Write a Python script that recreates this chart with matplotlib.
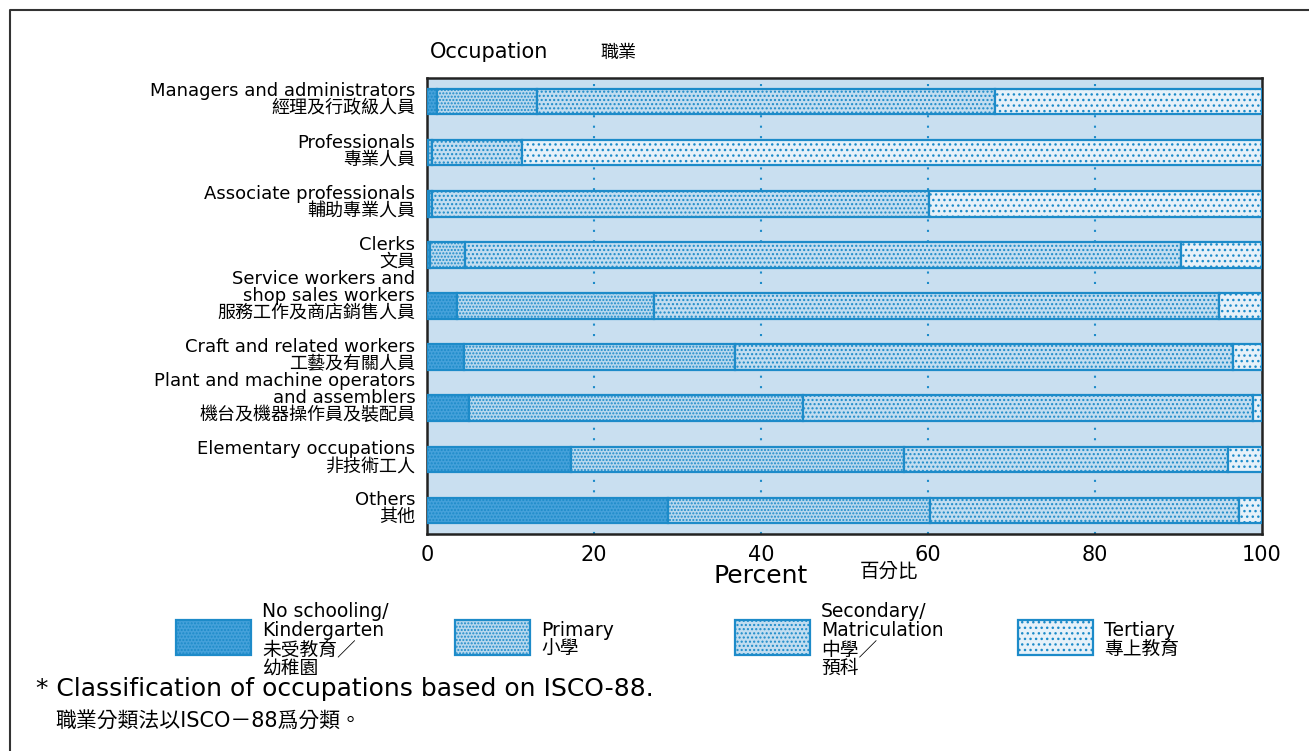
import numpy as np
import matplotlib
matplotlib.use('Agg')
import matplotlib.pyplot as plt
from matplotlib.patches import Rectangle
from matplotlib.lines import Line2D

plt.rcParams['font.family'] = ['DejaVu Sans', 'Noto Sans CJK TC']
plt.rcParams['hatch.linewidth'] = 1.0

occupations_en = ["Managers and administrators", "Professionals", "Associate professionals",
                  "Clerks", "Service workers and\nshop sales workers", "Craft and related workers",
                  "Plant and machine operators\nand assemblers", "Elementary occupations", "Others"]
occupations_zh = ["經理及行政級人員", "專業人員", "輔助專業人員", "文員", "服務工作及商店銷售人員",
                  "工藝及有關人員", "機台及機器操作員及裝配員", "非技術工人", "其他"]

# percent of employed persons by educational attainment
no_schooling = [1.2, 0.1, 0.2, 0.3, 3.6, 4.4, 5.0, 17.3, 28.9]
primary = [12.0, 0.5, 0.4, 4.3, 23.6, 32.5, 40.0, 39.8, 31.3]
secondary = [54.8, 10.8, 59.5, 85.7, 67.6, 59.6, 53.9, 38.8, 37.0]
tertiary = [32.0, 88.6, 39.9, 9.7, 5.2, 3.5, 1.1, 4.1, 2.8]

levels = ["No schooling/\nKindergarten\n未受教育／\n幼稚園", "Primary\n小學",
          "Secondary/\nMatriculation\n中學／\n預科", "Tertiary\n專上教育"]
xticks = [0, 20, 40, 60, 80, 100]

faces = ['#45a1da', '#b8d8ee', '#c2ddf0', '#e6f1f9']
hatches = ['.....', '.....', '....', '...']
edge = '#1d8bc9'
bg = '#c9dff0'

W, H = 1309, 751
fig = plt.figure(figsize=(W / 100, H / 100), dpi=100)

def fx(px):
    return px / W

def fy(py):
    return 1 - py / H

ax = fig.add_axes([fx(427), fy(534), fx(1262) - fx(427), fy(78) - fy(534)])
ax.set_facecolor(bg)

series = [no_schooling, primary, secondary, tertiary]
y = np.arange(len(occupations_en))
left = np.zeros(len(y))
for vals, fc, h in zip(series, faces, hatches):
    ax.barh(y, vals, left=left, height=0.5, color=fc, edgecolor=edge,
            linewidth=1.6, hatch=h, zorder=3)
    left += np.array(vals)

ax.set_xlim(0, 100)
ax.set_ylim(len(y) - 0.54, -0.46)
ax.set_xticks(xticks)
ax.set_xticklabels([str(t) for t in xticks], fontsize=15)
ax.tick_params(axis='x', length=0, pad=8)
ax.set_yticks([])
for xv in xticks[1:-1]:
    ax.axvline(xv, color=edge, linestyle=(0, (1, 4)), linewidth=1.5, zorder=1)
for s in ax.spines.values():
    s.set_color('#222222')
    s.set_linewidth(1.8)

# category labels: Chinese line sits at the bar bottom, English lines above
ytrans = ax.get_yaxis_transform()
for yi, en, zh in zip(y, occupations_en, occupations_zh):
    ax.text(-0.014, yi + 0.31, en + "\n" + zh, transform=ytrans, ha='right',
            va='bottom', multialignment='right', fontsize=13, linespacing=0.92)

fig.text(fx(430), fy(58), "Occupation", fontsize=15, ha='left', va='baseline')
fig.text(fx(600), fy(58), "職業", fontsize=13, ha='left', va='baseline')
fig.text(fx(713), fy(576), "Percent", fontsize=18, ha='left', va='center')
fig.text(fx(860), fy(571), "百分比", fontsize=14, ha='left', va='center')

# legend
patch_x = [176, 455, 735, 1018]
for px, lab, fc, h in zip(patch_x, levels, faces, hatches):
    fig.patches.append(Rectangle((fx(px), fy(655)), fx(75), fy(620) - fy(655),
                                 transform=fig.transFigure, facecolor=fc,
                                 edgecolor=edge, linewidth=1.6, hatch=h))
    fig.text(fx(px + 86), fy(640), lab, fontsize=13.5, ha='left', va='center',
             linespacing=1.0)

fig.text(fx(36), fy(689), "* Classification of occupations based on ISCO-88.",
         fontsize=18, ha='left', va='center')
fig.text(fx(55), fy(721), "職業分類法以ISCO－88爲分類。", fontsize=15,
         ha='left', va='center')

# outer frame
fig.add_artist(Line2D([fx(10), fx(10), 1.0], [0.0, fy(10), fy(10)],
                      transform=fig.transFigure, color='#333333', linewidth=1.5))

fig.savefig("out.png", dpi=100)
